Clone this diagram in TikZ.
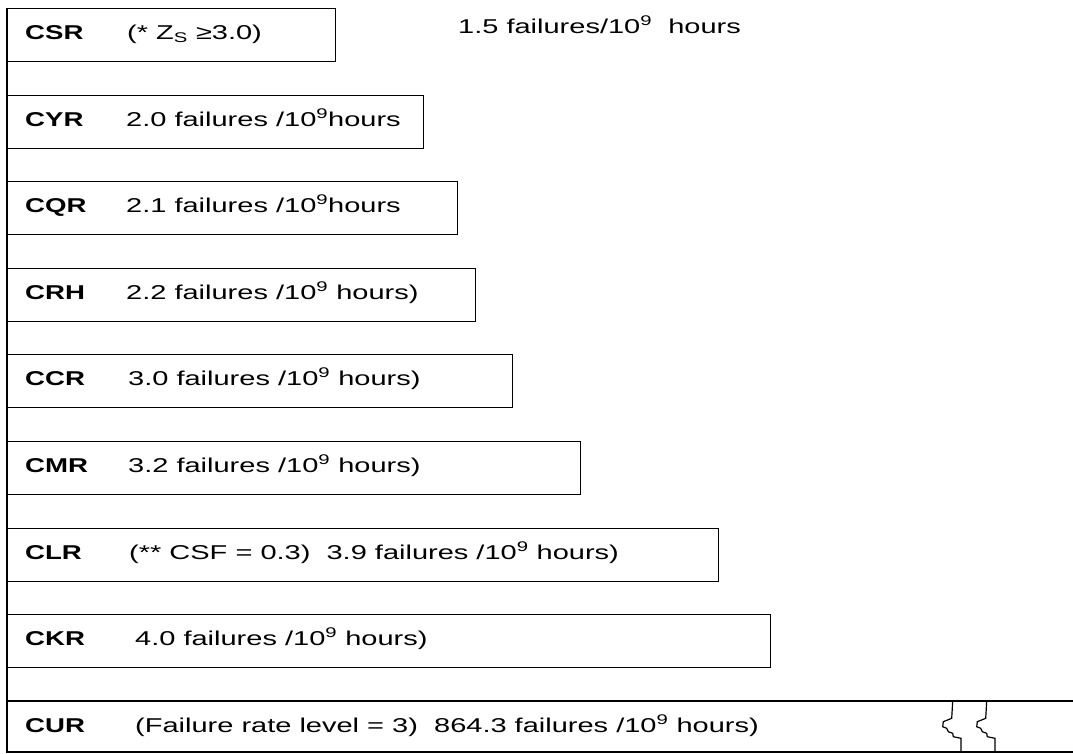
\documentclass[tikz,border=0pt]{standalone}
\usepackage{fontspec}
\setmainfont{Liberation Sans}[FakeStretch=1.45, BoldFeatures={FakeStretch=1.38}]
\begin{document}
\begin{tikzpicture}[x=1pt, y=-1pt,
        barre/.style={draw=black, line width=1.2pt, anchor=north west, minimum height=53pt, inner sep=0pt},
        nom/.style={anchor=base west, inner sep=0pt, font=\fontsize{20}{24}\selectfont\bfseries},
        taux/.style={anchor=base west, inner sep=0pt, font=\fontsize{20}{24}\selectfont}]
        \useasboundingbox (0,0) rectangle (1073,753);

        \node[barre, minimum width=328pt] (CSR) at (7,8) {};
        \node[barre, minimum width=416pt] (CYR) at (7,95) {};
        \node[barre, minimum width=450pt] (CQR) at (7,181) {};
        \node[barre, minimum width=468pt] (CRH) at (7,268) {};
        \node[barre, minimum width=505pt] (CCR) at (7,354) {};
        \node[barre, minimum width=573pt] (CMR) at (7,441) {};
        \node[barre, minimum width=711pt] (CLR) at (7,528) {};
        \node[barre, minimum width=763pt] (CKR) at (7,614) {};

        \draw[line width=1.2pt] (7,701) -- (1073,701);
        \draw[line width=1.2pt] (7,752) -- (1073,752);
        \draw[line width=1.2pt] (CSR.north west) -- (7,753);

        \draw[line width=1.2pt] (952.7,701) -- (951.7,718.3) -- (943.3,721.7) -- (942.7,726.7) -- (946.7,728.3) -- (948.3,731.7) -- (952.7,733.3) -- (953.3,736.7) -- (961,738.3) -- (961,752);
        \draw[line width=1.2pt, xshift=34pt] (952.7,701) -- (951.7,718.3) -- (943.3,721.7) -- (942.7,726.7) -- (946.7,728.3) -- (948.3,731.7) -- (952.7,733.3) -- (953.3,736.7) -- (961,738.3) -- (961,752);

        \node[nom] (nCSR) at (25,39.5) {CSR};
        \node[nom] (nCYR) at (25,126.5) {CYR};
        \node[nom] (nCQR) at (25,212.5) {CQR};
        \node[nom] (nCRH) at (25,299.5) {CRH};
        \node[nom] (nCCR) at (25,385.5) {CCR};
        \node[nom] (nCMR) at (25,472.5) {CMR};
        \node[nom] (nCLR) at (25,559.5) {CLR};
        \node[nom] (nCKR) at (25,645.5) {CKR};
        \node[nom] (nCUR) at (25,732.5) {CUR};

        \node[taux] (tCSR) at (127,39.5) {(* Z\textsubscript{S} ≥3.0)};
        \node[taux] (tHaut) at (458,33) {1.5 failures/10\textsuperscript{9}\ \ hours};
        \node[taux] (tCYR) at (126,126.5) {2.0 failures /10\textsuperscript{9}hours};
        \node[taux] (tCQR) at (126,212.5) {2.1 failures /10\textsuperscript{9}hours};
        \node[taux] (tCRH) at (126,299.5) {2.2 failures /10\textsuperscript{9} hours)};
        \node[taux] (tCCR) at (128,385.5) {3.0 failures /10\textsuperscript{9} hours)};
        \node[taux] (tCMR) at (128,472.5) {3.2 failures /10\textsuperscript{9} hours)};
        \node[taux] (tCLR) at (129,559.5) {(** CSF = 0.3)\ \ 3.9 failures /10\textsuperscript{9} hours)};
        \node[taux] (tCKR) at (135,645.5) {4.0 failures /10\textsuperscript{9} hours)};
        \node[taux] (tCUR) at (135,732.5) {(Failure rate level = 3)\ \ 864.3 failures /10\textsuperscript{9} hours)};
    \end{tikzpicture}
\end{document}
